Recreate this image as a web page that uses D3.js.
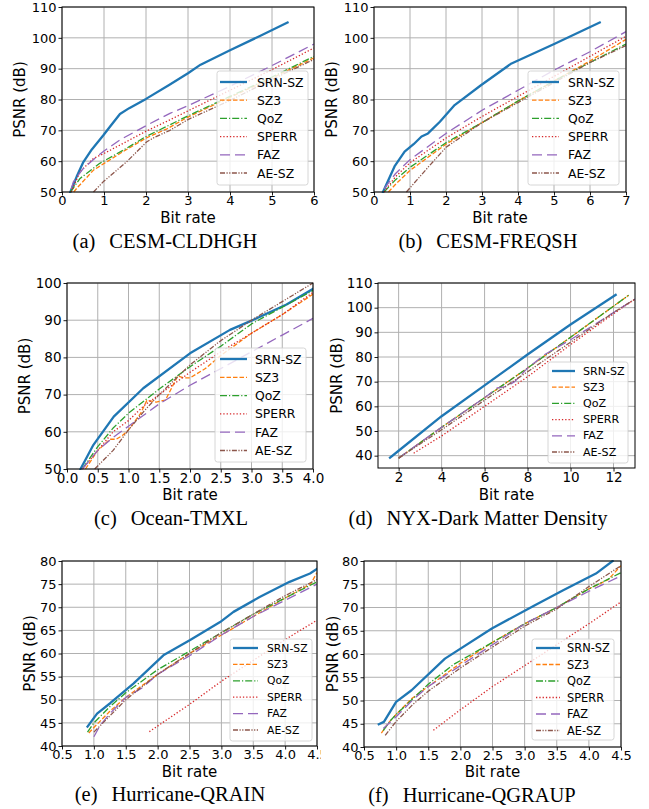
<!DOCTYPE html>
<html><head><meta charset="utf-8">
<script src="https://cdn.jsdelivr.net/npm/d3@7"></script>
<style>body{margin:0;background:#fff}</style></head>
<body>
<svg id="chart" width="649" height="809"></svg>
<script>
// ---------- data ----------
const seriesNames = ["SRN-SZ","SZ3","QoZ","SPERR","FAZ","AE-SZ"];

// (a) CESM-CLDHGH
const cldhgh_srn = [[0.2,50],[0.35,55],[0.5,59.5],[0.71,63.8],[0.98,68.3],[1.15,71.3],[1.38,75.3],[1.6,77.2],[2.0,80.2],[2.55,84.7],[3.0,88.5],[3.3,91.3],[4.0,96],[4.7,100.5],[5.37,105]];
const cldhgh_sz3 = [[0.28,50],[0.35,51.2],[0.75,57.1],[1.38,62.5],[2,67.5],[2.5,70.5],[3,74.3],[4,80.7],[5,87],[6,93.5]];
const cldhgh_qoz = [[0.2,50],[0.43,54.4],[0.9,59.3],[1.54,64.2],[2,68],[2.57,71.8],[3,74.7],[4,81],[5,87.3],[6,94]];
const cldhgh_sperr = [[0.22,50],[0.43,56.6],[0.75,60.9],[1,62.5],[1.46,65.8],[2,69.7],[2.57,73.4],[3,76.3],[4,83],[5,89.7],[6,96.7]];
const cldhgh_faz = [[0.22,51],[0.27,53.3],[0.5,57.5],[0.83,61.5],[1.0,63.3],[1.38,66.9],[2,71.5],[2.57,75.5],[3,78],[4,84.3],[5,91],[6,98]];
const cldhgh_aesz = [[0.75,50],[0.98,53.3],[1.54,59.8],[2.02,66.3],[2.2,67.7],[2.57,70],[3,73.5],[4,79.7],[5,86.5],[6,93]];

// (b) CESM-FREQSH
const freqsh_srn = [[0.25,50],[0.57,58.3],[0.85,63.1],[1.1,65.5],[1.32,68],[1.5,69],[1.83,72.8],[2.24,78.2],[2.98,84.7],[3.82,91.7],[5.02,98.1],[6.27,105]];
const freqsh_sz3 = [[0.4,50],[0.6,52.5],[1,57],[2,65.5],[3,72.5],[4,79.5],[5,86],[6,92.5],[7,99.5]];
const freqsh_qoz = [[0.28,50],[0.6,54],[1,58],[2,66],[3,72.5],[4,79.5],[5,86],[6,92],[7,98]];
const freqsh_sperr = [[0.28,50],[0.6,55],[1,59.5],[2,67.5],[3,74.5],[4,81],[5,87.5],[6,94],[7,100.5]];
const freqsh_faz = [[0.28,51],[0.6,56],[1,60.5],[2,69],[3,76.5],[4,83],[5,89.5],[6,95.5],[7,102]];
const freqsh_aesz = [[0.9,50],[1.2,54],[1.5,58],[2,64.5],[2.5,68.5],[3,72.5],[4,79],[5,85.5],[6,92],[7,97.5]];

// (c) Ocean-TMXL
const tmxl_srn = [[0.22,50],[0.43,56.5],[0.76,64.1],[1.24,71.7],[2.0,81.1],[2.65,87.4],[3.03,90.1],[3.57,94.2],[4,98.4]];
const tmxl_sz3 = [[0.3,50],[0.5,55],[0.7,58],[0.8,58],[0.9,59],[1,60.5],[1.2,65],[1.3,68.5],[1.45,68],[1.6,68.5],[1.8,75],[1.9,74.5],[2.0,74.5],[2.25,77],[2.5,80.5],[3,86.5],[3.5,91.5],[4,97]];
const tmxl_qoz = [[0.25,50],[0.5,56],[0.75,61],[1,65],[1.5,71.5],[2,77.5],[2.5,83],[3,89],[3.5,93.5],[4,98]];
const tmxl_sperr = [[0.25,50],[0.5,55],[0.75,60],[1,63],[1.25,67],[1.5,70],[1.75,73],[2,76],[2.5,81.5],[3,86.5],[3.5,91.5],[4,97.5]];
const tmxl_faz = [[0.25,50],[0.5,55],[0.75,58.5],[1,61.5],[1.5,67.5],[2,72.5],[2.5,77],[3,81.5],[3.5,86],[4,90.5]];
const tmxl_aesz = [[0.45,50],[0.75,55],[1,60.5],[1.25,65.5],[1.5,70],[2,78],[2.5,84.5],[3,90],[3.5,95],[4,100]];

// (d) NYX-Dark Matter Density
const nyx_srn = [[1.6,39.2],[2,42],[4,56],[6,68.5],[8,81],[10,93.2],[12.1,105.2]];
const nyx_sz3 = [[2,39],[4,51.5],[6,63.5],[8,75.5],[10,88],[12.7,105]];
const nyx_qoz = [[2,39],[4,51.5],[6,63.5],[8,75.5],[10,88],[12.7,105]];
const nyx_sperr = [[2.7,41],[4,48],[6,60],[8,72],[10,85],[12,97.5],[13,103.5]];
const nyx_faz = [[2,39],[4,51.5],[6,63.5],[6.6,67.5],[7,68],[7.4,70],[8,75.5],[8.8,81],[10,87],[12,98],[13,103.5]];
const nyx_aesz = [[2,39],[4,50.5],[6,62.5],[8,74],[10,86],[12,98],[13,103.5]];

// (e) Hurricane-QRAIN
const qrain_srn = [[0.9,44.2],[1.05,47],[1.26,49.3],[1.62,53.5],[2.09,59.6],[2.51,62.9],[2.98,66.8],[3.19,69],[3.6,72.2],[4.07,75.5],[4.39,77.3],[4.5,78.3]];
const qrain_sz3 = [[0.92,42.8],[1.0,44],[1.25,47.5],[1.5,50.5],[2,55.5],[2.5,60],[3,64],[3.5,68],[4,72],[4.4,75],[4.5,77.5]];
const qrain_qoz = [[0.9,43],[1.0,45],[1.25,48.5],[1.5,51.5],[2,56.5],[2.5,60.5],[3,64.5],[3.5,68.5],[4,72],[4.5,75.5]];
const qrain_sperr = [[1.87,43.1],[2.5,49],[3,54],[3.5,58.5],[4,63],[4.5,67.2]];
const qrain_faz = [[1.0,42],[1.1,44.5],[1.25,47],[1.5,50.5],[1.75,52.5],[2,55.5],[2.5,59.5],[3,64],[3.5,68],[4,71.5],[4.5,75]];
const qrain_aesz = [[1.0,43],[1.25,46.5],[1.5,50],[2,55.5],[2.5,60],[3,64.5],[3.5,68.5],[4,72.5],[4.5,76]];

// (f) Hurricane-QGRAUP
const qgraup_srn = [[0.73,44.9],[0.81,45.4],[1.0,49.7],[1.24,52.2],[1.76,59],[2.49,65.5],[3.16,70.5],[3.6,73.7],[4.11,77.3],[4.37,80]];
const qgraup_sz3 = [[0.77,43],[0.9,45.5],[1,47],[1.25,50.5],[1.5,53],[2,58],[2.5,62.5],[3,66.5],[3.5,70],[4,74],[4.3,76],[4.5,79]];
const qgraup_qoz = [[0.8,43.5],[0.9,45.5],[1,47],[1.5,53.5],[1.9,57.8],[2.5,62.5],[3,66.5],[3.5,70],[4,74],[4.5,77.5]];
const qgraup_sperr = [[1.58,43.6],[2,48],[2.5,53],[3,57.5],[3.5,62],[4,66.5],[4.5,71.2]];
const qgraup_faz = [[0.8,44],[1,46.5],[1.25,50],[1.5,53],[2,57.5],[2.5,62],[3,66.5],[3.5,70],[4,73.5],[4.5,76.8]];
const qgraup_aesz = [[0.83,42.5],[1,45.5],[1.25,49],[1.5,52],[2,57],[2.5,61.5],[3,66],[3.5,69.7],[4,74.5],[4.5,79]];

// tick labels
const ticksX_a = [0,1,2,3,4,5,6];
const ticksX_b = [0,1,2,3,4,5,6,7];
const ticksX_c = [0,0.5,1,1.5,2,2.5,3,3.5,4];
const ticksX_d = [2,4,6,8,10,12];
const ticksX_ef = [0.5,1,1.5,2,2.5,3,3.5,4,4.5];
const ticksY_ab = [50,60,70,80,90,100,110];
const ticksY_c = [50,60,70,80,90,100];
const ticksY_d = [40,50,60,70,80,90,100,110];
const ticksY_ef = [40,45,50,55,60,65,70,75,80];

const captionTags = ["(a)","(b)","(c)","(d)","(e)","(f)"];
const captionTitles = ["CESM-CLDHGH","CESM-FREQSH","Ocean-TMXL","NYX-Dark Matter Density","Hurricane-QRAIN","Hurricane-QGRAUP"];

// ---------- styles ----------
const seriesColors = ["#1f77b4","#ff7f0e","#2ca02c","#d62728","#9467bd","#8c564b"];
const seriesWidths = [2.3,1.3,1.3,1.3,1.3,1.3];
const seriesDash = [null,"4.5,2","7,2,1.2,2","1.3,2","10,5","5,1.5,1.2,1.5,1.2,1.5"];

const panels = [
 {series:[cldhgh_srn,cldhgh_sz3,cldhgh_qoz,cldhgh_sperr,cldhgh_faz,cldhgh_aesz], rect:[62,7,314,192], xd:[0,6], yd:[50,110], xt:ticksX_a, yt:ticksY_ab, xf:d3.format("d"), tf:13,
  ylx:20, xly:223, capx:165, capy:248, lg:{x:217,y:71,w:91,h:114,r0:82,st:18.2,f:12.4,sx:220,sl:27,tx:257}},
 {series:[freqsh_srn,freqsh_sz3,freqsh_qoz,freqsh_sperr,freqsh_faz,freqsh_aesz], rect:[374,7,626,192], xd:[0,7], yd:[50,110], xt:ticksX_b, yt:ticksY_ab, xf:d3.format("d"), tf:13,
  ylx:332, xly:223, capx:488, capy:248, lg:{x:528,y:71,w:91,h:114,r0:82,st:18.2,f:12.4,sx:532,sl:27,tx:568}},
 {series:[tmxl_srn,tmxl_sz3,tmxl_qoz,tmxl_sperr,tmxl_faz,tmxl_aesz], rect:[67,283,313,469], xd:[0,4], yd:[50,100], xt:ticksX_c, yt:ticksY_c, xf:d3.format(".1f"), tf:13.5,
  ylx:25, xly:500, capx:171, capy:525, lg:{x:215,y:348,w:91,h:114,r0:359,st:18.3,f:12.4,sx:220,sl:27,tx:255}},
 {series:[nyx_srn,nyx_sz3,nyx_qoz,nyx_sperr,nyx_faz,nyx_aesz], rect:[378,283,635,468], xd:[1.04,13], yd:[35,110], xt:ticksX_d, yt:ticksY_d, xf:d3.format("d"), tf:13.5,
  ylx:337, xly:500, capx:478, capy:525, lg:{x:548,y:362,w:80,h:101,r0:371,st:16.2,f:11.1,sx:552,sl:23,tx:583}},
 {series:[qrain_srn,qrain_sz3,qrain_qoz,qrain_sperr,qrain_faz,qrain_aesz], rect:[62,561,317,746], xd:[0.5,4.5], yd:[40,80], xt:ticksX_ef, yt:ticksY_ef, xf:d3.format(".1f"), tf:13,
  ylx:30, xly:777, capx:170, capy:801, lg:{x:230,y:639,w:82,h:102,r0:648,st:16.4,f:10.8,sx:233,sl:25,tx:267}, clipRight:321},
 {series:[qgraup_srn,qgraup_sz3,qgraup_qoz,qgraup_sperr,qgraup_faz,qgraup_aesz], rect:[364,561,621,747], xd:[0.5,4.5], yd:[40,80], xt:ticksX_ef, yt:ticksY_ef, xf:d3.format(".1f"), tf:13,
  ylx:333, xly:777, capx:472, capy:802, lg:{x:532,y:639,w:82,h:101,r0:648,st:16.5,f:11.4,sx:536,sl:24,tx:567}}
];

const svg = d3.select("#chart");
svg.append("rect").attr("width",649).attr("height",809).attr("fill","#fff");
const defs = svg.append("defs");

panels.forEach((p,pi)=>{
  const [x0,y0,x1,y1] = p.rect;
  const g = svg.append("g");
  if (p.clipRight) {
    defs.append("clipPath").attr("id","clipR"+pi).append("rect").attr("x",0).attr("y",0).attr("width",p.clipRight).attr("height",809);
    g.attr("clip-path","url(#clipR"+pi+")");
  }
  const x = d3.scaleLinear().domain(p.xd).range([x0,x1]);
  const y = d3.scaleLinear().domain(p.yd).range([y1,y0]);

  // grid
  g.append("g").selectAll("line").data(p.xt).join("line")
    .attr("x1",d=>x(d)).attr("x2",d=>x(d)).attr("y1",y0).attr("y2",y1)
    .attr("stroke","#b0b0b0").attr("stroke-width",1);
  g.append("g").selectAll("line").data(p.yt).join("line")
    .attr("x1",x0).attr("x2",x1).attr("y1",d=>y(d)).attr("y2",d=>y(d))
    .attr("stroke","#b0b0b0").attr("stroke-width",1);

  // clip for lines
  defs.append("clipPath").attr("id","plot"+pi).append("rect")
    .attr("x",x0).attr("y",y0-1).attr("width",x1-x0).attr("height",y1-y0+2);
  const line = d3.line().x(d=>x(d[0])).y(d=>y(d[1]));
  const lg = g.append("g").attr("clip-path","url(#plot"+pi+")");
  p.series.forEach((s,si)=>{
    lg.append("path").datum(s).attr("d",line).attr("fill","none")
      .attr("stroke",seriesColors[si]).attr("stroke-width",seriesWidths[si])
      .attr("stroke-dasharray",seriesDash[si]).attr("stroke-linejoin","round")
      .attr("stroke-linecap", si===0?"square":"butt");
  });

  // axes
  const ax = g.append("g").attr("transform",`translate(0,${y1})`)
    .call(d3.axisBottom(x).tickValues(p.xt).tickFormat(p.xf).tickSize(3.5).tickPadding(0.5));
  const ay = g.append("g").attr("transform",`translate(${x0},0)`)
    .call(d3.axisLeft(y).tickValues(p.yt).tickFormat(d3.format("d")).tickSize(3.5).tickPadding(2));
  [ax,ay].forEach(a=>{
    a.select(".domain").remove();
    a.selectAll("text").attr("font-family","DejaVu Sans").attr("font-size",p.tf).attr("fill","#000");
    a.selectAll("line").attr("stroke","#000").attr("stroke-width",0.9);
  });
  // frame
  g.append("rect").attr("x",x0).attr("y",y0).attr("width",x1-x0).attr("height",y1-y0)
    .attr("fill","none").attr("stroke","#000").attr("stroke-width",1);

  // axis labels
  g.append("text").attr("x",(x0+x1)/2).attr("y",p.xly).attr("text-anchor","middle")
    .attr("font-family","DejaVu Sans").attr("font-size",15).text("Bit rate");
  g.append("text").attr("transform",`translate(${p.ylx},${(y0+y1)/2}) rotate(-90)`)
    .attr("text-anchor","middle").attr("dominant-baseline","central")
    .attr("font-family","DejaVu Sans").attr("font-size",15).text("PSNR (dB)");

  // legend
  const L = p.lg;
  const leg = g.append("g");
  leg.append("rect").attr("x",L.x).attr("y",L.y).attr("width",L.w).attr("height",L.h)
    .attr("rx",2.5).attr("fill","#fff").attr("fill-opacity",0.8).attr("stroke","#cccccc").attr("stroke-width",0.8);
  seriesNames.forEach((n,si)=>{
    const yy = L.r0 + si*L.st;
    leg.append("line").attr("x1",L.sx).attr("x2",L.sx+L.sl).attr("y1",yy).attr("y2",yy)
      .attr("stroke",seriesColors[si]).attr("stroke-width",seriesWidths[si]).attr("stroke-dasharray",seriesDash[si]);
    leg.append("text").attr("x",L.tx).attr("y",yy).attr("dominant-baseline","central")
      .attr("font-family","DejaVu Sans").attr("font-size",L.f).text(n);
  });

  // caption
  const cap = svg.append("text").attr("x",p.capx).attr("y",p.capy).attr("text-anchor","middle")
    .attr("font-family","Liberation Serif").attr("font-size",20.5);
  cap.append("tspan").text(captionTags[pi]);
  cap.append("tspan").attr("dx",14).text(captionTitles[pi]);
});
</script>
</body></html>
